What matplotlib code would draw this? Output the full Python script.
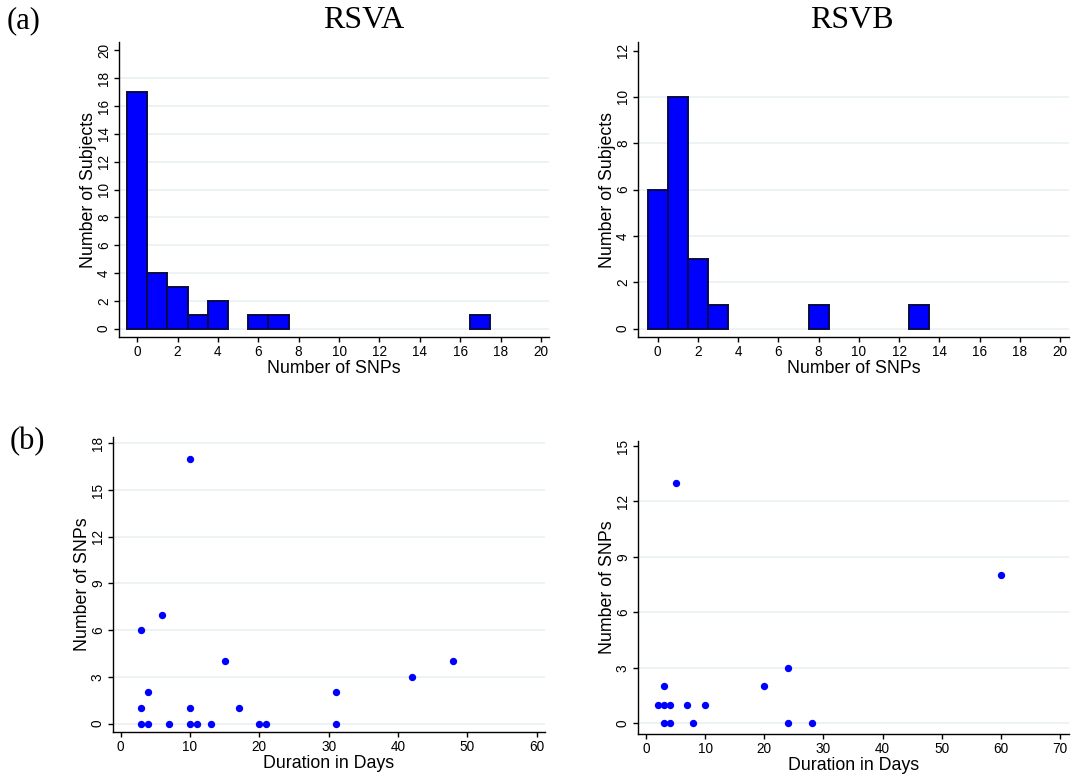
import numpy as np
import matplotlib
matplotlib.use('Agg')
import matplotlib.pyplot as plt

# histogram data: number of SNPs per subject
rsva_snps = [0, 1, 2, 3, 4, 6, 7, 17]
rsva_counts = [17, 4, 3, 1, 2, 1, 1, 1]
rsvb_snps = [0, 1, 2, 3, 8, 13]
rsvb_counts = [6, 10, 3, 1, 1, 1]

# scatter data: duration vs number of SNPs
rsva_days = [3, 6, 15, 4, 3, 10, 17, 3, 4, 7, 10, 11, 13, 20, 21, 10, 31, 31, 42, 48]
rsva_snp_pts = [6, 7, 4, 2, 1, 1, 1, 0, 0, 0, 0, 0, 0, 0, 0, 17, 2, 0, 3, 4]
rsvb_days = [3, 2, 3, 4, 7, 10, 3, 4, 8, 20, 5, 24, 24, 28, 60]
rsvb_snp_pts = [2, 1, 1, 1, 1, 1, 0, 0, 0, 2, 13, 3, 0, 0, 8]

plt.rcParams['font.family'] = ['Liberation Sans', 'DejaVu Sans']

BLUE = '#0000FF'
EDGE = '#0A0A4A'
GRID = '#EAF0F3'

W, H = 1083, 775
fig = plt.figure(figsize=(W / 100, H / 100), dpi=100)


def px_axes(left, top, right, bottom):
    return fig.add_axes([left / W, 1 - bottom / H, (right - left) / W, (bottom - top) / H])


def style(ax, yticks, grid_vals, xticks, xlim, ylim, xlabel, ylabel):
    for v in grid_vals:
        ax.axhline(v, color=GRID, lw=1.2, zorder=0)
    ax.set_xlim(*xlim)
    ax.set_ylim(*ylim)
    ax.set_xticks(xticks)
    ax.set_yticks(yticks)
    for s in ['top', 'right']:
        ax.spines[s].set_visible(False)
    for s in ['left', 'bottom']:
        ax.spines[s].set_linewidth(1.0)
    ax.tick_params(length=3.8, width=1.0, pad=2, labelsize=9.8)
    plt.setp(ax.get_yticklabels(), rotation=90, va='center')
    ax.set_xlabel(xlabel, fontsize=12.8, labelpad=1)
    ax.set_ylabel(ylabel, fontsize=12.8, labelpad=0)


# (a) histograms
ax1 = px_axes(119, 42, 549, 337)
ax1.bar(rsva_snps, rsva_counts, width=1, color=BLUE, edgecolor=EDGE, linewidth=1.4, zorder=2)
style(ax1, range(0, 21, 2), range(0, 19, 2), range(0, 21, 2), (-0.9, 20.4), (-0.6, 20.6),
      'Number of SNPs', 'Number of Subjects')

ax2 = px_axes(638, 42, 1069, 337)
ax2.bar(rsvb_snps, rsvb_counts, width=1, color=BLUE, edgecolor=EDGE, linewidth=1.4, zorder=2)
style(ax2, range(0, 13, 2), range(0, 11, 2), range(0, 21, 2), (-0.98, 20.45), (-0.36, 12.37),
      'Number of SNPs', 'Number of Subjects')

# (b) scatter plots
ax3 = px_axes(113, 437, 545, 732)
ax3.scatter(rsva_days, rsva_snp_pts, s=28, color=BLUE, linewidths=0, zorder=2)
style(ax3, range(0, 19, 3), range(0, 19, 3), range(0, 61, 10), (-1.1, 61.2), (-0.54, 18.4),
      'Duration in Days', 'Number of SNPs')

ax4 = px_axes(638, 441, 1069, 734)
ax4.scatter(rsvb_days, rsvb_snp_pts, s=28, color=BLUE, linewidths=0, zorder=2)
style(ax4, range(0, 16, 3), range(0, 13, 3), range(0, 71, 10), (-1.35, 71.5), (-0.58, 15.27),
      'Duration in Days', 'Number of SNPs')

# titles and panel letters
fig.text(364 / W, 1 - 20 / H, 'RSVA', family='Liberation Serif', fontsize=23, ha='center', va='center')
fig.text(852 / W, 1 - 20 / H, 'RSVB', family='Liberation Serif', fontsize=23, ha='center', va='center')
fig.text(7 / W, 1 - 21 / H, '(a)', family='Liberation Serif', fontsize=22, ha='left', va='center')
fig.text(10 / W, 1 - 442 / H, '(b)', family='Liberation Serif', fontsize=22, ha='left', va='center')

fig.savefig('out.png', dpi=100)
